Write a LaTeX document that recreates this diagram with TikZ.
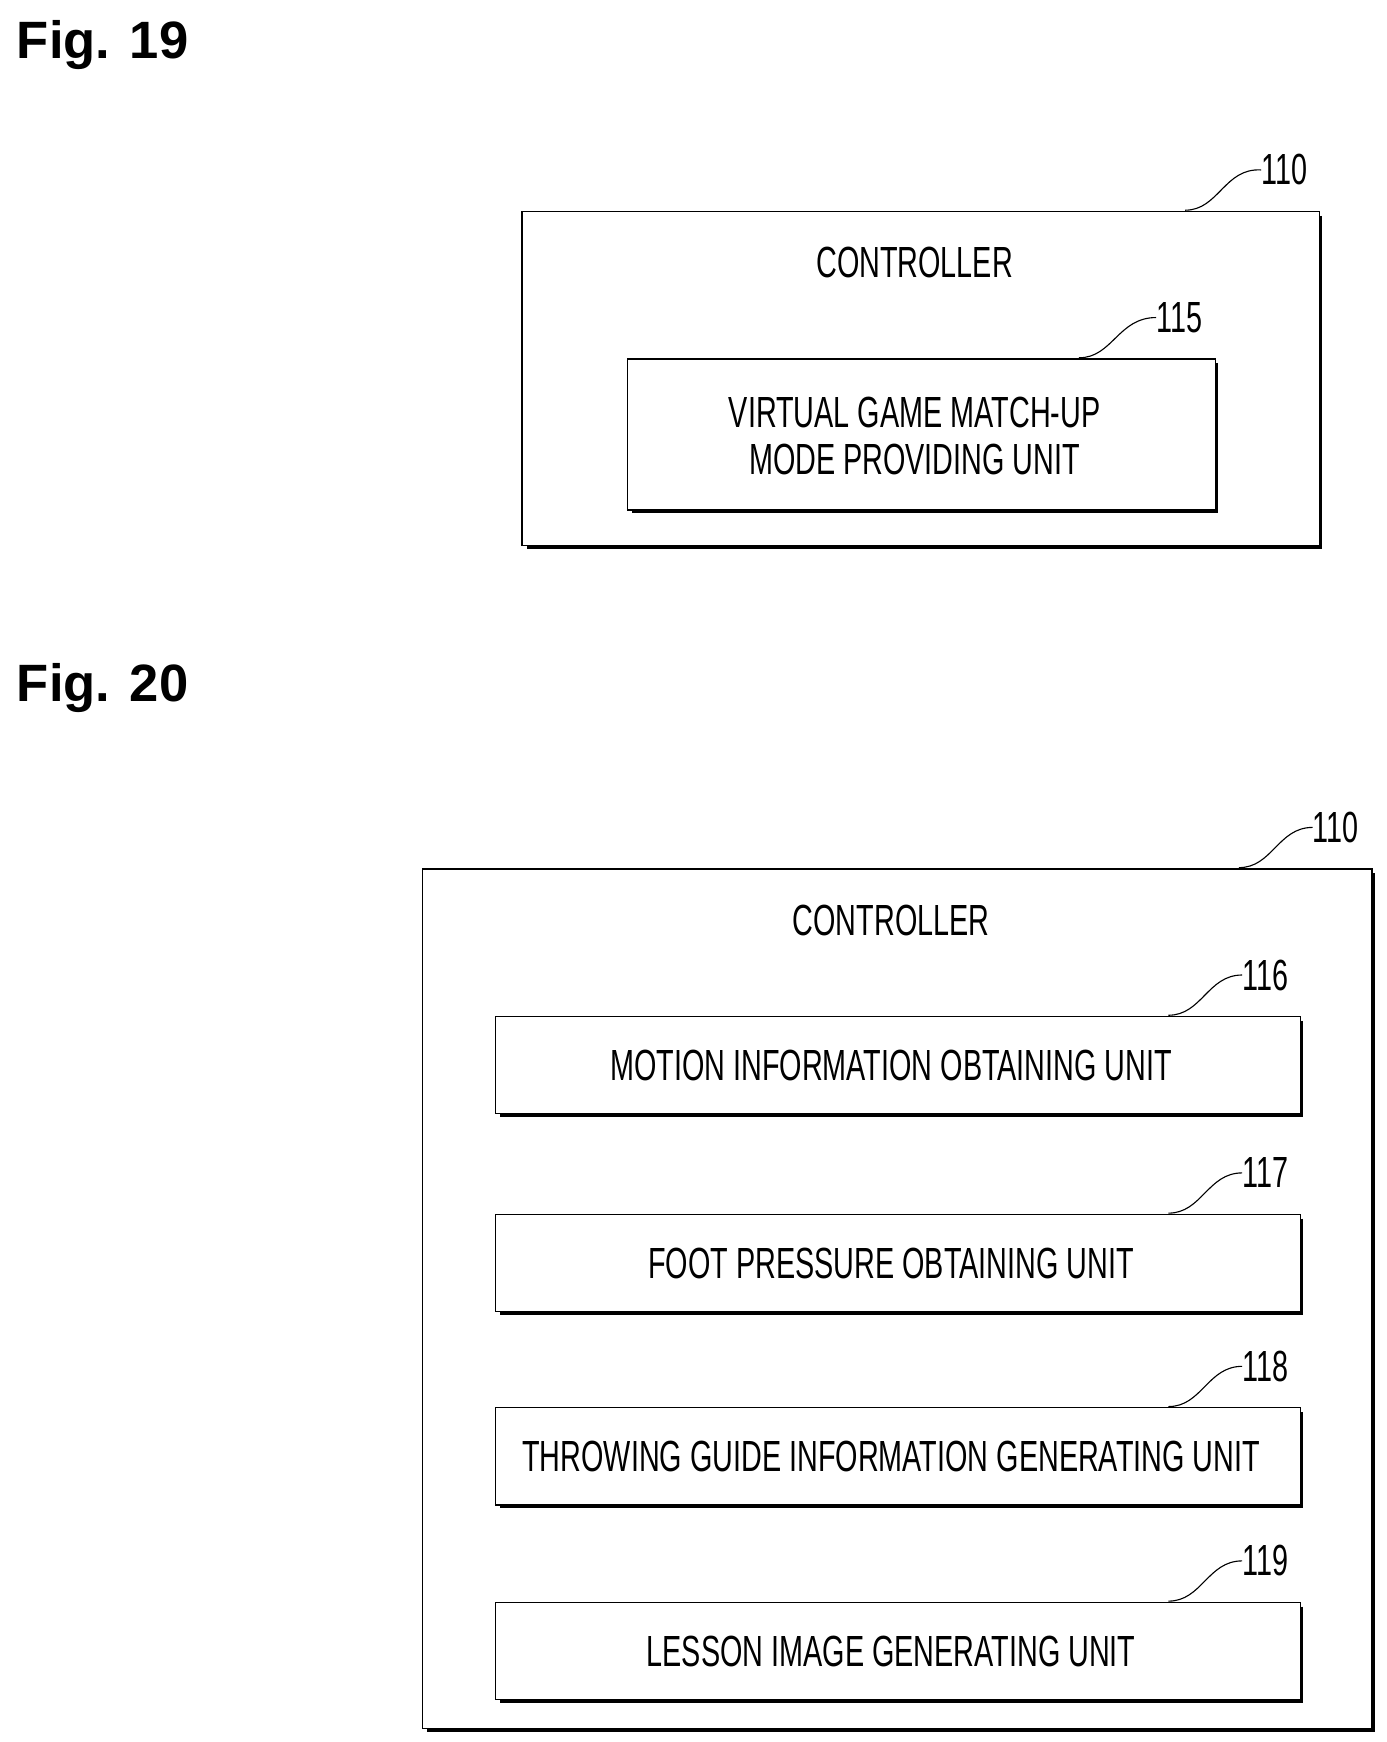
\documentclass[tikz,border=0pt]{standalone}
\usepackage{fontspec}
\setmainfont{Liberation Sans}
\begin{document}
\begin{tikzpicture}[x=1pt,y=-1pt,
 box/.style={draw,line width=1.3pt,inner sep=0pt},
 txt/.style={font=\fontsize{39}{46}\selectfont,align=center},
 num/.style={font=\fontsize{39}{46}\selectfont,anchor=west,inner sep=0pt},
 fig/.style={font=\fontsize{47}{52}\selectfont\bfseries,anchor=west,inner sep=0pt},
 lead/.style={line width=1pt}]
\useasboundingbox (0,0) rectangle (1240,1558);
\newcommand{\shbox}[5]{% name x1 y1 x2 y2
 \draw[box] (#2,#3) rectangle (#4,#5);
 \draw[line width=3.5pt] (#4+1,#3+4) -- (#4+1,#5+1) -- (#2+4,#5+1);
 \coordinate (#1) at ({(#2+#4)/2},{(#3+#5)/2});}
\newcommand{\cond}[1]{\scalebox{0.66}[1]{#1}}
\node[fig] (f19) at (15,40) {Fig. 19};
\node[fig] (f20) at (15,615) {Fig. 20};
% Fig 19
\shbox{c1}{467}{189}{1180}{488}
\node[txt] (c1t) at (818,235) {\cond{CONTROLLER}};
\shbox{u115}{561}{321}{1087}{456}
\node[txt] (u115t) at (818,390) {\cond{VIRTUAL GAME MATCH-UP}\\[-4pt]\cond{MODE PROVIDING UNIT}};
\node[num] (n110a) at (1128,152) {\cond{110}};
\coordinate (s110a) at (1060,188);
\draw[lead] (s110a) .. controls (1090,188) and (1095,150) .. (n110a.west);
\node[num] (n115) at (1034,284) {\cond{115}};
\coordinate (s115) at (965,320);
\draw[lead] (s115) .. controls (995,320) and (1000,284) .. (n115.west);
% Fig 20
\shbox{c2}{378}{777}{1227}{1546}
\node[txt] (c2t) at (797,823) {\cond{CONTROLLER}};
\node[num] (n110b) at (1174,740) {\cond{110}};
\coordinate (s110b) at (1108,776);
\draw[lead] (s110b) .. controls (1138,776) and (1143,740) .. (n110b.west);
\foreach \nm/\y/\t in {116/909/MOTION INFORMATION OBTAINING UNIT,117/1086/FOOT PRESSURE OBTAINING UNIT,118/1259/THROWING GUIDE INFORMATION GENERATING UNIT,119/1433/LESSON IMAGE GENERATING UNIT}{
 \shbox{u\nm}{443}{\y}{1163}{\y+87}
 \node[txt] (u\nm t) at (797,\y+44) {\cond{\t}};
 \node[num] (n\nm) at (1111,\y-37) {\cond{\nm}};
 \coordinate (s\nm) at (1045,\y-1);
 \draw[lead] (s\nm) .. controls (1075,\y-1) and (1080,\y-37) .. (n\nm.west);
}
\end{tikzpicture}
\end{document}
